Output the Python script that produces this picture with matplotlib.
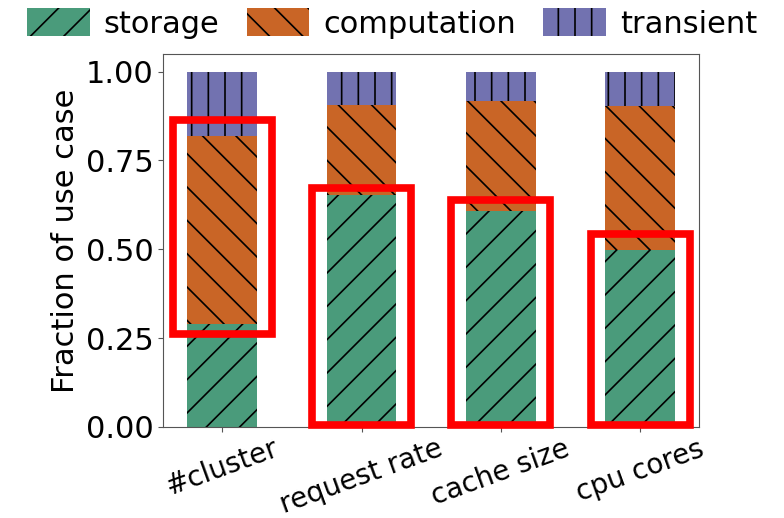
import matplotlib
matplotlib.use("Agg")
import matplotlib.pyplot as plt
from matplotlib.patches import Rectangle
import numpy as np

categories = ["#cluster", "request rate", "cache size", "cpu cores"]
storage = [0.29, 0.653, 0.608, 0.497]
computation = [0.528, 0.254, 0.310, 0.405]
transient = [0.182, 0.093, 0.082, 0.098]
series_names = ["storage", "computation", "transient"]
colors = ["#4a9b7b", "#c96526", "#7272b0"]
hatches = ["/", "\\", "|"]
# highlight boxes: (category index, y bottom, y top)
highlight_idx = [0, 1, 2, 3]
highlight_lo = [0.26, 0.006, 0.006, 0.006]
highlight_hi = [0.865, 0.673, 0.64, 0.544]

plt.rcParams["hatch.linewidth"] = 1.2
fig = plt.figure(figsize=(7.84, 5.18), dpi=100)
ax = fig.add_axes([0.208, 0.176, 0.684, 0.72])
x = np.arange(len(categories))
bottom = np.zeros(len(categories))
for vals, name, c, h in zip([storage, computation, transient], series_names, colors, hatches):
    ax.bar(x, vals, 0.5, bottom=bottom, color=c, hatch=h, edgecolor="black",
           linewidth=0, label=name)
    bottom += np.array(vals)
ax.set_ylim(0, 1.05)
ax.set_xlim(-0.425, 3.425)
ax.set_xticks(x)
ax.set_xticklabels(categories, rotation=20, fontsize=20)
ax.tick_params(axis="x", pad=2)
ax.set_yticks([0, 0.25, 0.5, 0.75, 1.0])
ax.set_yticklabels(["0.00", "0.25", "0.50", "0.75", "1.00"], fontsize=22)
ax.set_ylabel("Fraction of use case", fontsize=22)
for s in ax.spines.values():
    s.set_color("#555555")
ax.tick_params(colors="black", color="#555555")
for i, lo, hi in zip(highlight_idx, highlight_lo, highlight_hi):
    ax.add_patch(Rectangle((i - 0.355, lo), 0.71, hi - lo, fill=False,
                           edgecolor="red", linewidth=5.5, zorder=5, clip_on=False))
leg = fig.legend(loc="upper center", bbox_to_anchor=(0.5, 1.02), ncol=3, frameon=False,
                 fontsize=22, handlelength=2.05, handleheight=1.05, columnspacing=0.9,
                 handletextpad=0.45, borderaxespad=0.2)
fig.savefig("out.png", dpi=100)
